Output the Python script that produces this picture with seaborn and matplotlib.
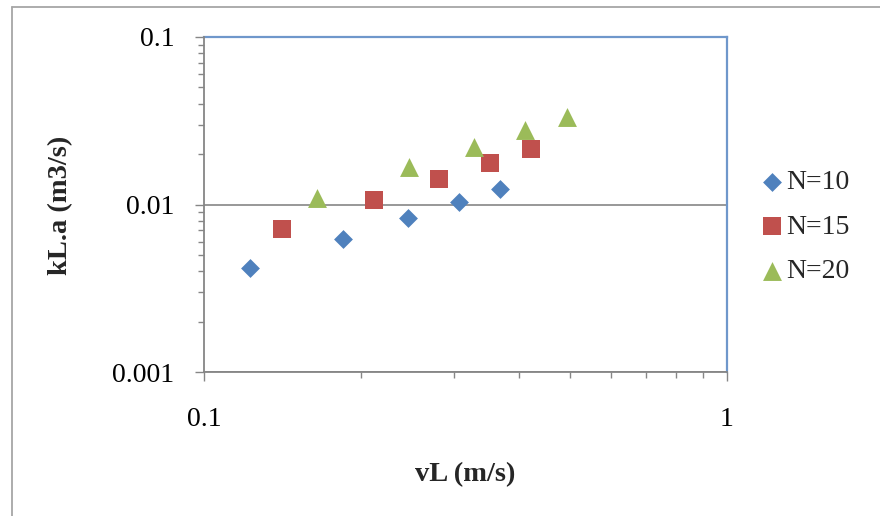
import matplotlib
matplotlib.use("Agg")
import matplotlib.pyplot as plt
import matplotlib.ticker as mticker
from matplotlib.lines import Line2D
import seaborn as sns
import pandas as pd

# ---- data ----
vL_N10 = [0.1226, 0.1841, 0.2458, 0.3069, 0.3685]
kLa_N10 = [0.00416, 0.00622, 0.00830, 0.01039, 0.01243]
vL_N15 = [0.1408, 0.2111, 0.2813, 0.3518, 0.4218]
kLa_N15 = [0.00711, 0.01068, 0.01426, 0.01777, 0.02137]
vL_N20 = [0.1646, 0.2469, 0.3288, 0.4114, 0.4937]
kLa_N20 = [0.01089, 0.01675, 0.02213, 0.02785, 0.03331]
series_names = ["N=10", "N=15", "N=20"]
x_ticklabels = ["0.1", "1"]
y_ticklabels = ["0.001", "0.01", "0.1"]

sns.set_theme(style="white")
plt.rcParams["font.family"] = ["Liberation Serif", "DejaVu Serif"]

df = pd.concat([
    pd.DataFrame({"vL": vL_N10, "kLa": kLa_N10, "series": series_names[0]}),
    pd.DataFrame({"vL": vL_N15, "kLa": kLa_N15, "series": series_names[1]}),
    pd.DataFrame({"vL": vL_N20, "kLa": kLa_N20, "series": series_names[2]}),
], ignore_index=True)

colors = {"N=10": "#4F81BD", "N=15": "#C0504D", "N=20": "#9BBB59"}
markers = {"N=10": "D", "N=15": "s", "N=20": "^"}
msize = {"N=10": 9.6, "N=15": 13.4, "N=20": 13.6}

fig = plt.figure(figsize=(8.8, 5.16), dpi=100)
ax = fig.add_axes([204 / 880, 1 - 372 / 516, 523 / 880, 335 / 516])

for name in series_names:
    sub = df[df["series"] == name]
    sns.scatterplot(data=sub, x="vL", y="kLa", ax=ax, color=colors[name],
                    marker=markers[name], s=msize[name] ** 2, linewidth=0,
                    label=name, zorder=3)

ax.set_xscale("log")
ax.set_yscale("log")
ax.set_xlim(0.1, 1)
ax.set_ylim(0.001, 0.1)

ax.xaxis.set_major_locator(mticker.FixedLocator([0.1, 1]))
ax.xaxis.set_major_formatter(mticker.FixedFormatter(x_ticklabels))
ax.yaxis.set_major_locator(mticker.FixedLocator([0.001, 0.01, 0.1]))
ax.yaxis.set_major_formatter(mticker.FixedFormatter(y_ticklabels))
ax.xaxis.set_minor_locator(mticker.LogLocator(base=10, subs=range(2, 10)))
ax.yaxis.set_minor_locator(mticker.LogLocator(base=10, subs=range(2, 10)))
ax.xaxis.set_minor_formatter(mticker.NullFormatter())
ax.yaxis.set_minor_formatter(mticker.NullFormatter())

grey = "#868686"
blue = "#6F97CB"
ax.tick_params(axis="both", which="major", direction="out", length=6.5,
               width=1.0, color=grey, labelsize=20, labelcolor="black")
ax.tick_params(axis="both", which="minor", direction="out", length=4.5,
               width=1.0, color=grey)
ax.tick_params(axis="x", which="major", pad=19)
ax.tick_params(axis="y", which="major", pad=15)
ax.tick_params(left=True, bottom=True, which="both")

for side in ["left", "bottom"]:
    ax.spines[side].set_color(grey)
    ax.spines[side].set_linewidth(1.3)
    ax.spines[side].set_zorder(4)
for side in ["top", "right"]:
    ax.spines[side].set_color(blue)
    ax.spines[side].set_linewidth(1.6)
    ax.spines[side].set_visible(True)

ax.grid(False)
ax.yaxis.grid(True, which="major", color=grey, linewidth=1.2)
ax.set_axisbelow(True)

ax.set_xlabel("vL (m/s)", fontsize=20.5, fontweight="bold")
ax.set_ylabel("kL.a (m3/s)", fontsize=20.5, fontweight="bold")
ax.xaxis.set_label_coords((465 - 204) / 523, (372 - 475) / 335)
ax.xaxis.label.set_va("center")
ax.yaxis.set_label_coords((61 - 204) / 523, (372 - 205) / 335)
ax.yaxis.label.set_va("center")

leg = ax.legend(loc="center left", bbox_to_anchor=(1.047, (372 - 227) / 335),
                frameon=False, fontsize=20, handlelength=0.7, handletextpad=0.15,
                labelspacing=0.68, borderaxespad=0, markerscale=1)

# outer chart frame
fig.add_artist(Line2D([12 / 880, 1.0], [1 - 7 / 516, 1 - 7 / 516],
                      transform=fig.transFigure, color="#A6A6A6", linewidth=1.3))
fig.add_artist(Line2D([12 / 880, 12 / 880], [1 - 7 / 516, 0.0],
                      transform=fig.transFigure, color="#A6A6A6", linewidth=1.3))

fig.savefig("out.png", dpi=100)
